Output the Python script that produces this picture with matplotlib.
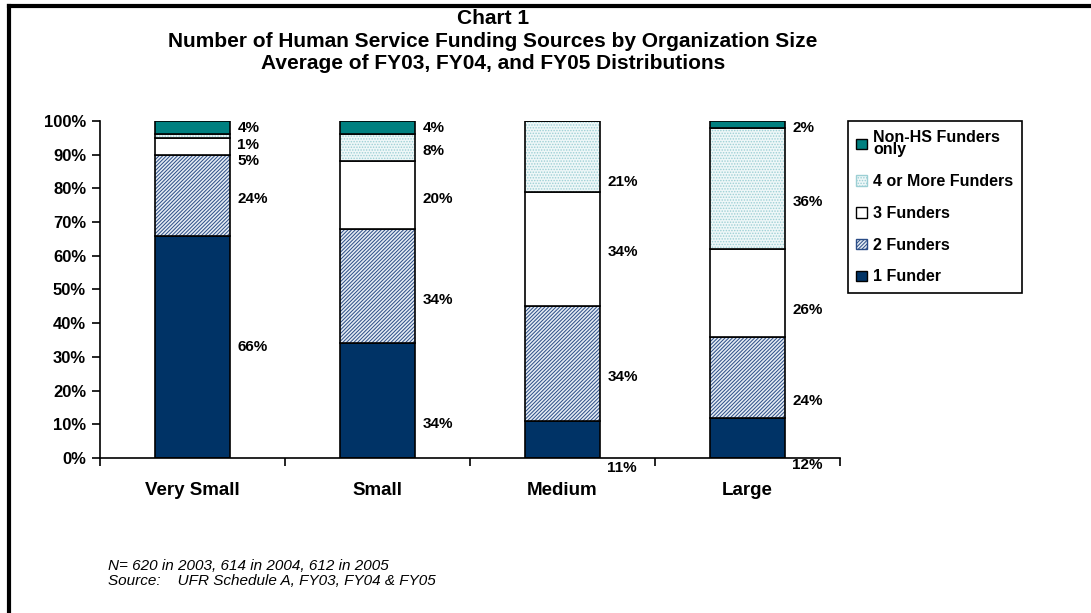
import matplotlib.pyplot as plt
from matplotlib.patches import Patch
from matplotlib.lines import Line2D

plt.rcParams['font.family'] = ['Liberation Sans', 'DejaVu Sans']
plt.rcParams['hatch.linewidth'] = 0.7

sizes = ["Very Small", "Small", "Medium", "Large"]
series = ["1 Funder", "2 Funders", "3 Funders", "4 or More Funders", "Non-HS Funders\nonly"]
one_funder = [66, 34, 11, 12]
two_funders = [24, 34, 34, 24]
three_funders = [5, 20, 34, 26]
four_more = [1, 8, 21, 36]
non_hs = [4, 4, 0, 2]

values = [one_funder, two_funders, three_funders, four_more, non_hs]

# look of each series: face, hatch, hatch colour
looks = [
    ("#003366", None, None),
    ("#e4ebf3", "/////////", "#2a4c86"),
    ("#ffffff", None, None),
    ("#eef7f8", "......", "#9ccfd4"),
    ("#008080", None, None),
]

# where the labels sit (percent height), as in the original chart
label_y = [
    [33, 77, 88, 93, 98],
    [10, 47, 77, 91, 98],
    [-3, 24, 61, 82, None],
    [-2, 17, 44, 76, 98],
]

fig = plt.figure(figsize=(10.91, 6.13), dpi=100)
ax = fig.add_axes([0.0917, 0.2529, 0.6783, 0.5497])

width = 0.405
x = list(range(len(sizes)))
bottom = [0, 0, 0, 0]
for vals, (face, hatch, hcol) in zip(values, looks):
    if hatch:
        ax.bar(x, vals, width, bottom=bottom, color=face, hatch=hatch,
               edgecolor=hcol, linewidth=0)
    ax.bar(x, vals, width, bottom=bottom, facecolor=face if not hatch else 'none',
           edgecolor='black', linewidth=1.2)
    bottom = [b + v for b, v in zip(bottom, vals)]

for i in x:
    for j, vals in enumerate(values):
        if vals[i] == 0:
            continue
        ax.text(i + width / 2 + 0.04, label_y[i][j], f"{vals[i]}%", ha='left', va='center',
                fontsize=11, fontweight='bold', clip_on=False)

ax.set_xlim(-0.5, 3.5)
ax.set_ylim(0, 100)
ax.set_yticks(range(0, 101, 10))
ax.set_yticklabels([f"{t}%" for t in range(0, 101, 10)], fontsize=12, fontweight='bold')
ax.set_xticks([-0.5, 0.5, 1.5, 2.5, 3.5])
ax.set_xticklabels([])
ax.set_xticks(x, minor=True)
ax.set_xticklabels(sizes, minor=True, fontsize=13.5, fontweight='bold')
ax.tick_params(axis='x', which='minor', length=0, pad=17)
ax.tick_params(axis='x', which='major', length=6, width=1.2, direction='out')
ax.tick_params(axis='y', length=6, width=1.2, direction='out', pad=4)
ax.spines['right'].set_visible(False)
ax.spines['top'].set_visible(False)
for s in ['left', 'bottom']:
    ax.spines[s].set_linewidth(1.2)

handles = []
for name, (face, hatch, hcol) in zip(series, looks):
    handles.append(Patch(facecolor=face, edgecolor=hcol if hatch else 'black',
                         hatch=hatch, label=name))
leg = fig.legend(handles[::-1], series[::-1], loc='upper left', bbox_to_anchor=(0.777, 0.8026),
                 borderaxespad=0, fancybox=False, edgecolor='black', framealpha=1,
                 prop={'size': 11.5, 'weight': 'bold'}, handlelength=0.65, handleheight=0.65,
                 handletextpad=0.4, labelspacing=1.05, borderpad=0.55)
leg.get_frame().set_linewidth(1.2)
for t in leg.get_texts():
    t.set_linespacing(0.8)

title_lines = ["Chart 1",
               "Number of Human Service Funding Sources by Organization Size",
               "Average of FY03, FY04, and FY05 Distributions"]
for k, line in enumerate(title_lines):
    fig.text(0.452, 0.970 - k * 0.037, line, ha='center', va='center', fontsize=15, fontweight='bold')

fig.text(0.099, 0.064, "N= 620 in 2003, 614 in 2004, 612 in 2005\nSource:    UFR Schedule A, FY03, FY04 & FY05",
         ha='left', va='center', fontsize=11, style='italic', linespacing=1.05)

fig.add_artist(Line2D([0.0083, 0.0083], [0, 0.990], color='black', linewidth=3))
fig.add_artist(Line2D([0.0083, 1], [0.990, 0.990], color='black', linewidth=3))

fig.savefig("out.png", dpi=100)
